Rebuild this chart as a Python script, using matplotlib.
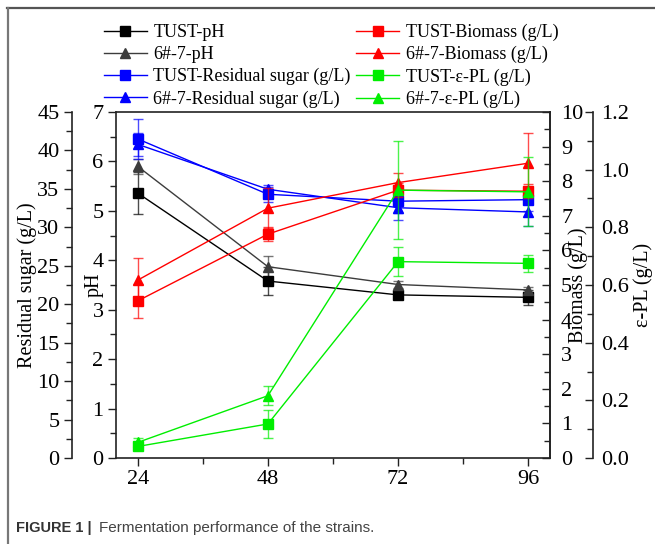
import matplotlib
matplotlib.use('Agg')
import matplotlib.pyplot as plt
from matplotlib.ticker import MultipleLocator, FixedLocator
from matplotlib.lines import Line2D

# ---- data ----
hours = [24, 48, 72, 96]
hour_labels = ['24', '48', '72', '96']

tust_ph = [5.36, 3.58, 3.30, 3.25]
tust_ph_err = [0.42, 0.28, 0.06, 0.15]
g67_ph = [5.90, 3.87, 3.51, 3.40]
g67_ph_err = [0.15, 0.22, 0.07, 0.05]

tust_bio = [4.54, 6.47, 7.74, 7.71]
tust_bio_err = [0.50, 0.20, 0.20, 0.20]
g67_bio = [5.14, 7.22, 7.96, 8.52]
g67_bio_err = [0.63, 0.58, 0.29, 0.86]

tust_rs = [41.5, 34.3, 33.4, 33.6]
tust_rs_err = [2.6, 1.0, 1.5, 1.5]
g67_rs = [40.8, 34.95, 32.55, 32.0]
g67_rs_err = [1.5, 0.6, 1.6, 1.8]

tust_pl = [0.040, 0.118, 0.681, 0.675]
tust_pl_err = [0.010, 0.050, 0.050, 0.030]
g67_pl = [0.054, 0.216, 0.929, 0.923]
g67_pl_err = [0.015, 0.033, 0.170, 0.120]

SERIF = 'Liberation Serif'
TICK_FS = 16
LAB_FS = 14.5
SP = '#222222'

fig = plt.figure(figsize=(6.55, 5.44), dpi=100)
W, H = 655.0, 544.0
L, R, B, T = 116, 550, 458, 112
ax = fig.add_axes([L / W, 1 - B / H, (R - L) / W, (B - T) / H])
ax_rs = ax.twinx()
ax_bio = ax.twinx()
ax_pl = ax.twinx()

def style_ticks(a, axis='y'):
    for lab in (a.get_yticklabels() if axis == 'y' else a.get_xticklabels()):
        lab.set_fontfamily(SERIF)
        lab.set_fontsize(TICK_FS)

# main (pH)
ax.set_xlim(20, 100)
ax.set_ylim(0, 7)
ax.xaxis.set_major_locator(FixedLocator(hours))
ax.set_xticklabels(hour_labels)
ax.xaxis.set_minor_locator(MultipleLocator(12))
ax.yaxis.set_major_locator(MultipleLocator(1))
ax.yaxis.set_minor_locator(MultipleLocator(0.5))
ax.tick_params(axis='x', which='major', direction='out', length=6, width=1, pad=3, colors=SP, labelcolor='black', labelsize=TICK_FS)
ax.tick_params(axis='x', which='minor', direction='out', length=4, width=1, colors=SP)
ax.tick_params(axis='y', which='major', direction='out', length=6, width=1, pad=3, colors=SP, labelcolor='black', labelsize=TICK_FS)
ax.tick_params(axis='y', which='minor', direction='out', length=4, width=1, colors=SP)
for s in ax.spines.values():
    s.set_color(SP); s.set_linewidth(1.2)
ax.set_ylabel('pH', fontfamily=SERIF, fontsize=LAB_FS, labelpad=-8)

# residual sugar (outer left)
ax_rs.set_ylim(0, 45)
ax_rs.yaxis.set_ticks_position('left')
ax_rs.yaxis.set_label_position('left')
ax_rs.spines['left'].set_position(('axes', -(L - 72) / (R - L)))
ax_rs.spines['left'].set_visible(True)
for k in ('right', 'top', 'bottom'):
    ax_rs.spines[k].set_visible(False)
ax_rs.spines['left'].set_color(SP); ax_rs.spines['left'].set_linewidth(1.2)
ax_rs.yaxis.set_major_locator(MultipleLocator(5))
ax_rs.yaxis.set_minor_locator(MultipleLocator(2.5))
ax_rs.tick_params(axis='y', which='major', direction='out', length=6, width=1, pad=3, colors=SP, labelcolor='black', labelsize=TICK_FS)
ax_rs.tick_params(axis='y', which='minor', direction='out', length=4, width=1, colors=SP)
ax_rs.set_ylabel('Residual sugar (g/L)', fontfamily=SERIF, fontsize=LAB_FS, labelpad=0)

# biomass (inner right)
ax_bio.set_ylim(0, 10)
for k in ('left', 'top', 'bottom'):
    ax_bio.spines[k].set_visible(False)
ax_bio.spines['right'].set_color(SP); ax_bio.spines['right'].set_linewidth(1.2)
ax_bio.yaxis.set_major_locator(MultipleLocator(1))
ax_bio.yaxis.set_minor_locator(MultipleLocator(0.5))
ax_bio.tick_params(axis='y', which='major', direction='in', length=6, width=1, pad=8, colors=SP, labelcolor='black', labelsize=TICK_FS)
ax_bio.tick_params(axis='y', which='minor', direction='in', length=4, width=1, colors=SP)
ax_bio.set_ylabel('Biomass (g/L)', fontfamily=SERIF, fontsize=LAB_FS, rotation=90, labelpad=-11)

# e-PL (outer right)
ax_pl.set_ylim(0, 1.2)
ax_pl.spines['right'].set_position(('axes', (593 - L) / (R - L)))
for k in ('left', 'top', 'bottom'):
    ax_pl.spines[k].set_visible(False)
ax_pl.spines['right'].set_color(SP); ax_pl.spines['right'].set_linewidth(1.2)
ax_pl.yaxis.set_major_locator(MultipleLocator(0.2))
ax_pl.yaxis.set_minor_locator(MultipleLocator(0.1))
ax_pl.yaxis.set_major_formatter(matplotlib.ticker.FormatStrFormatter('%.1f'))
ax_pl.tick_params(axis='y', which='major', direction='in', length=6, width=1, pad=6, colors=SP, labelcolor='black', labelsize=TICK_FS)
ax_pl.tick_params(axis='y', which='minor', direction='in', length=4, width=1, colors=SP)
ax_pl.set_ylabel('ε-PL (g/L)', fontfamily=SERIF, fontsize=LAB_FS, rotation=90, labelpad=3)

for a in (ax, ax_rs, ax_bio, ax_pl):
    style_ticks(a, 'y')
style_ticks(ax, 'x')

def series(a, y, e, color, marker, label, ecolor=None):
    c = a.errorbar(hours, y, yerr=e, color=color, marker=marker, markersize=7,
                   linewidth=1.0, elinewidth=1.0, capsize=3.5, capthick=1.0,
                   ecolor=ecolor if ecolor else color, label=label)
    for art in c[1] + c[2]:
        art.set_alpha(0.7)
    return c[0]

h1 = series(ax, tust_ph, tust_ph_err, '#000000', 's', 'TUST-pH')
h2 = series(ax, g67_ph, g67_ph_err, '#3c3c3c', '^', '6#-7-pH')
h3 = series(ax_rs, tust_rs, tust_rs_err, '#0000ff', 's', 'TUST-Residual sugar (g/L)')
h4 = series(ax_rs, g67_rs, g67_rs_err, '#0000ff', '^', '6#-7-Residual sugar (g/L)')
h5 = series(ax_bio, tust_bio, tust_bio_err, '#ff0000', 's', 'TUST-Biomass (g/L)')
h6 = series(ax_bio, g67_bio, g67_bio_err, '#ff0000', '^', '6#-7-Biomass (g/L)')
h7 = series(ax_pl, tust_pl, tust_pl_err, '#00ee00', 's', 'TUST-ε-PL (g/L)')
h8 = series(ax_pl, g67_pl, g67_pl_err, '#00ee00', '^', '6#-7-ε-PL (g/L)')

handles = [h1, h2, h3, h4, h5, h6, h7, h8]
labels = ['TUST-pH', '6#-7-pH', 'TUST-Residual sugar (g/L)', '6#-7-Residual sugar (g/L)',
          'TUST-Biomass (g/L)', '6#-7-Biomass (g/L)', 'TUST-ε-PL (g/L)', '6#-7-ε-PL (g/L)']
fig.legend(handles, labels, ncol=2, loc='upper left', bbox_to_anchor=(100 / W, 1 - 20 / H),
           frameon=False, prop={'family': SERIF, 'size': 13}, handlelength=2.4,
           handletextpad=0.35, columnspacing=0.3, labelspacing=0.28, numpoints=1,
           borderaxespad=0, borderpad=0.2)

# frame
fig.add_artist(Line2D([7 / W, 1.0], [1 - 8 / H, 1 - 8 / H], transform=fig.transFigure, color='#555555', lw=1.6))
fig.add_artist(Line2D([8 / W, 8 / W], [0.0, 1 - 8 / H], transform=fig.transFigure, color='#777777', lw=1.6))

# caption
fig.text(16 / W, 1 - 528 / H, 'FIGURE 1 |', fontfamily='Liberation Sans', fontweight='bold',
         fontsize=10.5, color='#333333', va='center', ha='left')
fig.text(99 / W, 1 - 528 / H, 'Fermentation performance of the strains.', fontfamily='Liberation Sans',
         fontsize=11, color='#444444', va='center', ha='left')

fig.savefig('out.png', dpi=100)
